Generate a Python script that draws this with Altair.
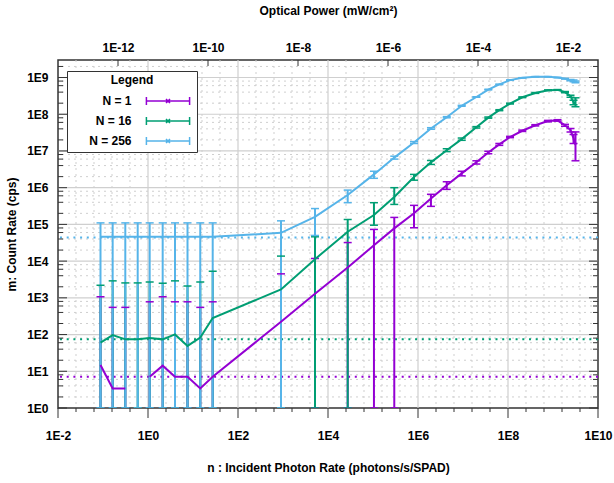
import altair as alt
import pandas as pd

# ---------------- data ----------------
series_names = ["N = 1", "N = 16", "N = 256"]
series_colors = ["#9400D3", "#009E73", "#56B4E9"]

# incident photon rate n (photons/s/SPAD)
n_rate = [0.088, 0.164, 0.313, 0.59, 1.09, 2.12, 3.98, 7.55, 14.5, 27.4,
          903, 5140, 27400, 1.05e5, 2.97e5, 8.15e5, 1.94e6, 4.35e6, 9.36e6,
          1.98e7, 3.65e7, 6.41e7, 1.11e8, 2.08e8, 4.04e8, 7.74e8, 1.26e9,
          1.85e9, 2.45e9, 2.86e9, 3.16e9]

# N = 1
m_n1 = [14.8, 3.4, 3.4, None, 7.1, 14.2, 7.1, 7.1, 3.4, 7.1,
        223, 1300, 6700, 2.7e4, 7.8e4, 2.0e5, 5.1e5, 1.17e6, 2.45e6,
        4.9e6, 9.1e6, 1.51e7, 2.4e7, 3.55e7, 5.0e7, 6.5e7, 6.8e7,
        5.0e7, 3.7e7, 2.2e7, 1.45e7]
hi_n1 = [1070, 550, 550, None, 780, 1070, 780, 780, 550, 780,
         4500, 1.18e4, 3.2e4, 7.3e4, 1.55e5, 3.3e5, 6.6e5, 1.45e6, 2.8e6,
         5.4e6, 9.8e6, 1.6e7, 2.5e7, 3.7e7, 5.2e7, 6.8e7, 7.1e7,
         5.3e7, 4.1e7, 2.8e7, 3.3e7]
lo_n1 = [1, 1, 1, None, 1, 1, 1, 1, 1, 1,
         1, 1, 1, 1, 1, 8.1e4, 3.1e5, 9.0e5, 2.1e6,
         4.4e6, 8.4e6, 1.42e7, 2.3e7, 3.4e7, 4.8e7, 6.2e7, 6.5e7,
         4.7e7, 3.3e7, 1.6e7, 5.4e6]

# N = 16
m_n16 = [60, 97, 74, 74, 80, 74, 101, 49, 83, 281,
         1700, 1.13e4, 6.3e4, 1.8e5, 5.6e5, 1.95e6, 4.9e6, 1.05e7, 2.1e7,
         4.4e7, 8.1e7, 1.29e8, 1.95e8, 2.9e8, 3.8e8, 4.5e8, 4.6e8,
         4.0e8, 3.1e8, 2.1e8, 1.95e8]
hi_n16 = [2200, 2900, 2550, 2550, 2700, 2500, 2900, 2100, 2700, 5300,
          1.37e4, 4.6e4, 1.36e5, 3.9e5, 1.0e6, 2.3e6, 5.5e6, 1.15e7, 2.25e7,
          4.6e7, 8.4e7, 1.33e8, 2.0e8, 2.97e8, 3.9e8, 4.6e8, 4.7e8,
          4.15e8, 3.3e8, 2.4e8, 2.8e8]
lo_n16 = [1, 1, 1, 1, 1, 1, 1, 1, 1, 1,
          1, 1, 1, 9.5e4, 3.5e5, 1.6e6, 4.3e6, 9.6e6, 1.95e7,
          4.2e7, 7.8e7, 1.25e8, 1.9e8, 2.83e8, 3.7e8, 4.4e8, 4.5e8,
          3.85e8, 2.9e8, 1.8e8, 1.6e8]

# N = 256
m_n256 = [4.6e4, 4.6e4, 4.6e4, 4.6e4, 4.6e4, 4.6e4, 4.6e4, 4.6e4, 4.6e4, 4.6e4,
          5.9e4, 1.6e5, 6.3e5, 2.3e6, 6.6e6, 1.7e7, 4.1e7, 8.3e7, 1.7e8,
          2.95e8, 4.7e8, 6.5e8, 8.5e8, 9.8e8, 1.05e9, 1.05e9, 1.0e9,
          9.3e8, 8.5e8, 8.1e8, 7.6e8]
hi_n256 = [1.1e5, 1.1e5, 1.1e5, 1.1e5, 1.1e5, 1.1e5, 1.1e5, 1.1e5, 1.1e5, 1.1e5,
           1.25e5, 2.7e5, 8.6e5, 2.8e6, 7.2e6, 1.8e7, 4.3e7, 8.6e7, 1.75e8,
           3.0e8, 4.8e8, 6.6e8, 8.6e8, 9.9e8, 1.06e9, 1.06e9, 1.01e9,
           9.5e8, 8.8e8, 8.5e8, 8.0e8]
lo_n256 = [1, 1, 1, 1, 1, 1, 1, 1, 1, 1,
           1, 5.0e4, 3.9e5, 1.8e6, 6.0e6, 1.6e7, 3.9e7, 8.0e7, 1.65e8,
           2.9e8, 4.6e8, 6.4e8, 8.4e8, 9.7e8, 1.04e9, 1.04e9, 9.9e8,
           9.1e8, 8.2e8, 7.7e8, 7.2e8]

# dark-count floors (dotted lines)
noise_floor = [7.1, 74, 4.4e4]

# axes
x_domain = [1e-2, 1e10]
y_domain = [1, 3e9]
x_major = [1e-2, 1, 1e2, 1e4, 1e6, 1e8, 1e10]
x_major_grid = [1, 1e2, 1e4, 1e6, 1e8]
x_minor_steps = [0.4, 0.8, 1.2, 1.6]
y_major = [1, 1e1, 1e2, 1e3, 1e4, 1e5, 1e6, 1e7, 1e8, 1e9]
y_minor_mantissa = [2, 4, 6, 8]
top_major = [1e-12, 1e-10, 1e-8, 1e-6, 1e-4, 1e-2]
power_per_rate = 4.64e-12   # mW/cm^2 per (photon/s/SPAD)

FONT = "Liberation Sans"
W, H = 540, 348

# ---------------- tables ----------------
rows = []
for name, m, hi, lo in zip(series_names, [m_n1, m_n16, m_n256],
                           [hi_n1, hi_n16, hi_n256], [lo_n1, lo_n16, lo_n256]):
    seg = 0
    for i, n in enumerate(n_rate):
        if m[i] is None:
            seg += 1
            continue
        rows.append(dict(series=name, n=n, m=m[i], hi=hi[i], lo=lo[i], seg=f"{name}-{seg}"))
df = pd.DataFrame(rows)

floor_df = pd.DataFrame({"series": series_names, "floor": noise_floor})

x_minor = [10 ** (k + f) for k in [-2, 0, 2, 4, 6, 8] for f in x_minor_steps]
y_minor = [mm * v for v in y_major for mm in y_minor_mantissa if mm * v <= y_domain[1]]
top_major_n = [p / power_per_rate for p in top_major]

xscale = alt.Scale(type="log", domain=x_domain, nice=False)
yscale = alt.Scale(type="log", domain=y_domain, nice=False)
cscale = alt.Scale(domain=series_names, range=series_colors)

def X(field, **kw):
    return alt.X(field, type="quantitative", scale=xscale, axis=None, **kw)

def Y(field, **kw):
    return alt.Y(field, type="quantitative", scale=yscale, axis=None, **kw)

GRID = "#cfcfcf"
TICK = "#333"

vgrid_minor = alt.Chart(pd.DataFrame({"v": x_minor})).mark_rule(
    color=GRID, strokeWidth=1, strokeDash=[2, 4]).encode(x=X("v"))
vgrid_major = alt.Chart(pd.DataFrame({"v": x_major_grid})).mark_rule(
    color=GRID, strokeWidth=1.2).encode(x=X("v"))
hgrid_minor = alt.Chart(pd.DataFrame({"v": y_minor})).mark_rule(
    color=GRID, strokeWidth=1, strokeDash=[2, 4]).encode(y=Y("v"))
hgrid_major = alt.Chart(pd.DataFrame({"v": y_major[1:]})).mark_rule(
    color=GRID, strokeWidth=1.2).encode(y=Y("v"))

floors = alt.Chart(floor_df).mark_rule(strokeWidth=2, strokeDash=[2, 4.7]).encode(
    y=Y("floor"), color=alt.Color("series:N", scale=cscale, legend=None))

bars = alt.Chart(df).mark_rule(strokeWidth=2, clip=True).encode(
    x=X("n"), y=Y("lo"), y2="hi",
    color=alt.Color("series:N", scale=cscale, legend=None))
caps_hi = alt.Chart(df).mark_tick(orient="horizontal", size=8, thickness=1.5, opacity=1, clip=True).encode(
    x=X("n"), y=Y("hi"), color=alt.Color("series:N", scale=cscale, legend=None))
caps_lo = alt.Chart(df).mark_tick(orient="horizontal", size=8, thickness=1.5, opacity=1, clip=True).encode(
    x=X("n"), y=Y("lo"), color=alt.Color("series:N", scale=cscale, legend=None))

legend_symbol = ("M-5.4,0H5.4M-5.4,-1V1M5.4,-1V1"
                 "M-0.5,-0.5L0.5,0.5M-0.5,0.5L0.5,-0.5")

lines = alt.Chart(df).mark_line(strokeWidth=2, clip=True).encode(
    x=alt.X("n:Q", scale=xscale,
            axis=alt.Axis(orient="bottom", values=x_major,
                          labelExpr="'1E' + round(log(datum.value)/LN10)",
                          ticks=False, domain=False, grid=False, labelPadding=22,
                          labelFlush=False, labelOverlap=False,
                          title="n : Incident Photon Rate (photons/s/SPAD)", titlePadding=21)),
    y=alt.Y("m:Q", scale=yscale,
            axis=alt.Axis(orient="left", values=y_major,
                          labelExpr="'1E' + round(log(datum.value)/LN10)",
                          ticks=False, domain=False, grid=False, labelPadding=10,
                          labelFlush=False, labelOverlap=False,
                          title="m: Count Rate (cps)", titlePadding=8)),
    detail="seg:N",
    color=alt.Color("series:N", scale=cscale,
                    legend=alt.Legend(
                        title="Legend", orient="none", legendX=9, legendY=11,
                        direction="vertical", fillColor="white", strokeColor="#333",
                        padding=4, titleAnchor="middle", titleAlign="center",
                        titleFont=FONT, titleFontSize=12, titleFontWeight="bold",
                        titleColor="black", titlePadding=8,
                        labelFont=FONT, labelFontSize=12, labelFontWeight="bold",
                        labelColor="black", labelAlign="right",
                        labelOffset={"expr": "-42.5"},
                        symbolOffset=91, symbolType=legend_symbol, symbolSize=64,
                        symbolStrokeWidth=1.5, symbolFillColor="transparent",
                        rowPadding=6)),
)

lt_major = alt.Chart(pd.DataFrame({"v": y_major})).mark_rule(color=TICK, strokeWidth=1).encode(
    y=Y("v"), x=alt.value(0), x2=alt.value(9))
lt_minor = alt.Chart(pd.DataFrame({"v": y_minor})).mark_rule(color=TICK, strokeWidth=1).encode(
    y=Y("v"), x=alt.value(0), x2=alt.value(5))
rt_major = alt.Chart(pd.DataFrame({"v": y_major})).mark_rule(color=TICK, strokeWidth=1).encode(
    y=Y("v"), x=alt.value(W - 9), x2=alt.value(W))
rt_minor = alt.Chart(pd.DataFrame({"v": y_minor})).mark_rule(color=TICK, strokeWidth=1).encode(
    y=Y("v"), x=alt.value(W - 5), x2=alt.value(W))
bt_major = alt.Chart(pd.DataFrame({"v": x_major})).mark_rule(color=TICK, strokeWidth=1).encode(
    x=X("v"), y=alt.value(H), y2=alt.value(H + 10))
bt_minor = alt.Chart(pd.DataFrame({"v": x_minor})).mark_rule(color=TICK, strokeWidth=1).encode(
    x=X("v"), y=alt.value(H), y2=alt.value(H + 4))

# top axis: optical power, drawn on the same x scale (n = P / power_per_rate)
top = alt.Chart(pd.DataFrame({"v": top_major_n})).mark_rule(color=TICK, strokeWidth=1).encode(
    x=alt.X("v:Q", scale=xscale,
            axis=alt.Axis(orient="top", values=top_major_n,
                          labelExpr="'1E' + round(log(datum.value*%g)/LN10)" % power_per_rate,
                          ticks=False, domain=False, grid=False, labelPadding=6,
                          labelFlush=False, labelOverlap=False,
                          title="Optical Power (mW/cm²)", titlePadding=24)),
    y=alt.value(0), y2=alt.value(6))

chart = alt.layer(vgrid_minor, vgrid_major, hgrid_minor, hgrid_major, floors,
                  bars, caps_hi, caps_lo, lines,
                  lt_major, lt_minor, rt_major, rt_minor, bt_major, bt_minor, top
                  ).resolve_axis(x="independent", y="independent"
                  ).resolve_legend(color="independent").properties(
    width=W, height=H,
    autosize=alt.AutoSizeParams(type="none"),
    padding={"left": 58, "top": 60, "right": 16, "bottom": 75},
).configure_view(stroke="#333", strokeWidth=1.5).configure_axis(
    labelFont=FONT, labelFontSize=12, labelFontWeight="bold", labelColor="black",
    titleFont=FONT, titleFontSize=12, titleFontWeight="bold", titleColor="black",
)

chart.save("out.html", embed_options={"renderer": "svg", "actions": False})
